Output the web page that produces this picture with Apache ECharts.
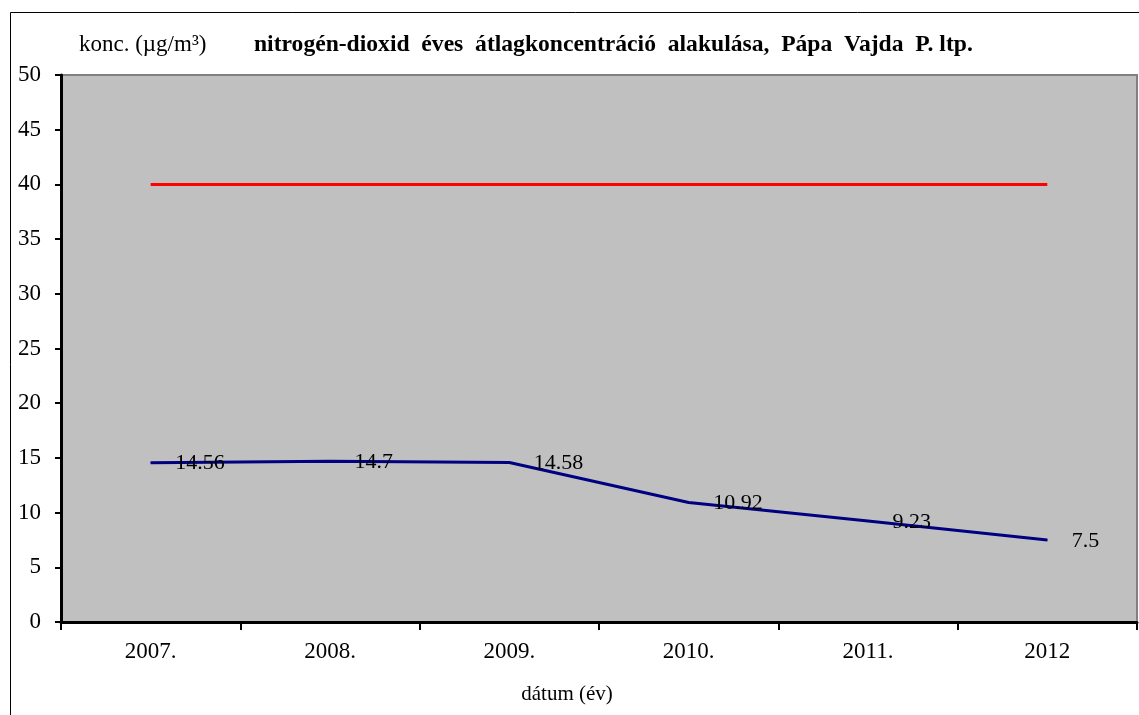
<!DOCTYPE html>
<html>
<head>
<meta charset="utf-8">
<script src="https://cdn.jsdelivr.net/npm/echarts@6/dist/echarts.min.js"></script>
<style>
  html, body { margin: 0; padding: 0; background: #fff; }
  #chart { width: 1139px; height: 715px; }
</style>
</head>
<body>
<div id="chart"></div>
<script>
// adatok
const years = ["2007.", "2008.", "2009.", "2010.", "2011.", "2012"];
const no2Values = [14.56, 14.7, 14.58, 10.92, 9.23, 7.5];
const limitValues = [40, 40, 40, 40, 40, 40];

const serif = "Liberation Serif";

let myChart = echarts.init(document.getElementById("chart"));

let option = {
  animation: false,
  backgroundColor: "#fff",
  title: [
    {
      text: "konc. (µg/m³)",
      left: 74,
      top: 28,
      textStyle: { fontFamily: serif, fontSize: 23, fontWeight: "normal", color: "#000" }
    },
    {
      text: "nitrogén-dioxid  éves  átlagkoncentráció  alakulása,  Pápa  Vajda  P. ltp.",
      left: 249,
      top: 28,
      textStyle: { fontFamily: serif, fontSize: 23.6, fontWeight: "bold", color: "#000" }
    }
  ],
  graphic: [
    {
      type: "rect",
      shape: { x: 10.5, y: 12.5, width: 1140, height: 720 },
      style: { fill: "none", stroke: "#000", lineWidth: 1 },
      silent: true
    }
  ],
  grid: {
    left: 61,
    right: 2,
    top: 75,
    bottom: 93,
    show: true,
    backgroundColor: "#c0c0c0",
    borderColor: "#808080",
    borderWidth: 2
  },
  xAxis: {
    type: "category",
    data: years,
    boundaryGap: true,
    name: "dátum (év)",
    nameLocation: "middle",
    nameGap: 62,
    nameTextStyle: { fontFamily: serif, fontSize: 21, color: "#000", padding: [0, 64, 0, 0] },
    axisLine: { lineStyle: { color: "#000", width: 3 } },
    axisTick: { show: true, length: 8, lineStyle: { color: "#000", width: 2 } },
    axisLabel: { fontFamily: serif, fontSize: 23, color: "#000", margin: 18 },
    splitLine: { show: false }
  },
  yAxis: {
    type: "value",
    min: 0,
    max: 50,
    interval: 5,
    axisLine: { show: true, lineStyle: { color: "#000", width: 3 } },
    axisTick: { show: true, length: 6, lineStyle: { color: "#000", width: 2 } },
    axisLabel: { fontFamily: serif, fontSize: 23, color: "#000", margin: 20 },
    splitLine: { show: false }
  },
  series: [
    {
      name: "határérték",
      type: "line",
      data: limitValues,
      symbol: "none",
      lineStyle: { color: "#ff0000", width: 3 },
      z: 3
    },
    {
      name: "NO2",
      type: "line",
      data: no2Values,
      symbol: "circle",
      symbolSize: 1,
      showSymbol: true,
      itemStyle: { color: "#000080" },
      lineStyle: { color: "#000080", width: 3 },
      label: {
        show: true,
        position: "right",
        distance: 24,
        offset: [0, 1],
        fontFamily: serif,
        fontSize: 22,
        color: "#000"
      },
      z: 4
    }
  ]
};

myChart.setOption(option);
</script>
</body>
</html>
